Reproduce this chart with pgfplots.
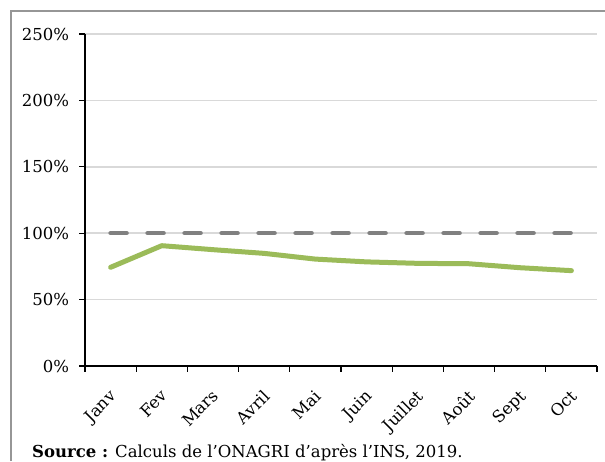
\documentclass[border=0pt]{standalone}
\usepackage{fontspec}
\setmainfont{DejaVu Serif}
\usepackage{pgfplots}
\pgfplotsset{compat=1.18}
\definecolor{lgreen}{RGB}{155,187,89}
\definecolor{dgrey}{RGB}{128,128,128}
\definecolor{gridgrey}{RGB}{217,217,217}
\definecolor{framegrey}{RGB}{150,150,150}
\begin{document}
\begin{tikzpicture}[x=1pt,y=1pt]
\useasboundingbox (0,0) rectangle (605,461);
\draw[framegrey, line width=1.5pt] (11,0) -- (11,450) -- (605,450);
\begin{axis}[
  at={(85pt,95pt)}, anchor=south west,
  scale only axis, width=512pt, height=332pt,
  font=\fontsize{16.5}{19}\selectfont,
  /pgf/number format/assume math mode=true,
  xmin=-0.5, xmax=9.5, ymin=0, ymax=250,
  axis lines*=left,
  axis line style={black, line width=1.5pt},
  xtick={-0.5,0.5,...,9.5},
  x tick label as interval,
  xticklabels={Janv,Fev,Mars,Avril,Mai,Juin,Juillet,Août,Sept,Oct},
  ytick={0,50,...,250},
  yticklabel={\pgfmathprintnumber{\tick}\%},
  tick align=outside,
  tick style={black, line width=1.2pt},
  major tick length=5.5pt,
  ymajorgrids,
  grid style={gridgrey, line width=1.5pt},
  yticklabel style={anchor=east, xshift=-7pt},
  xticklabel style={inner sep=0pt, xshift=-2pt, yshift=-17pt, rotate=45, anchor=north east},
  clip=false,
]
\addplot[dgrey, line width=4.5pt, line cap=round, dash pattern=on 16pt off 21pt]
  coordinates {(0,100) (1,100) (2,100) (3,100) (4,100) (5,100) (6,100) (7,100) (8,100) (9,100)};
\addplot[lgreen, line width=5pt, line cap=round, line join=round]
  coordinates {(0,74.3) (1,90.6) (2,87.6) (3,84.8) (4,80.5) (5,78.4) (6,77.3) (7,77.0) (8,74.0) (9,71.8)};
\end{axis}
\node[anchor=base west, font=\fontsize{16.5}{19}\selectfont, inner sep=0pt] at (32,3.5) {\textbf{Source :} Calculs de l'ONAGRI d'après l'INS, 2019.};
\end{tikzpicture}
\end{document}
